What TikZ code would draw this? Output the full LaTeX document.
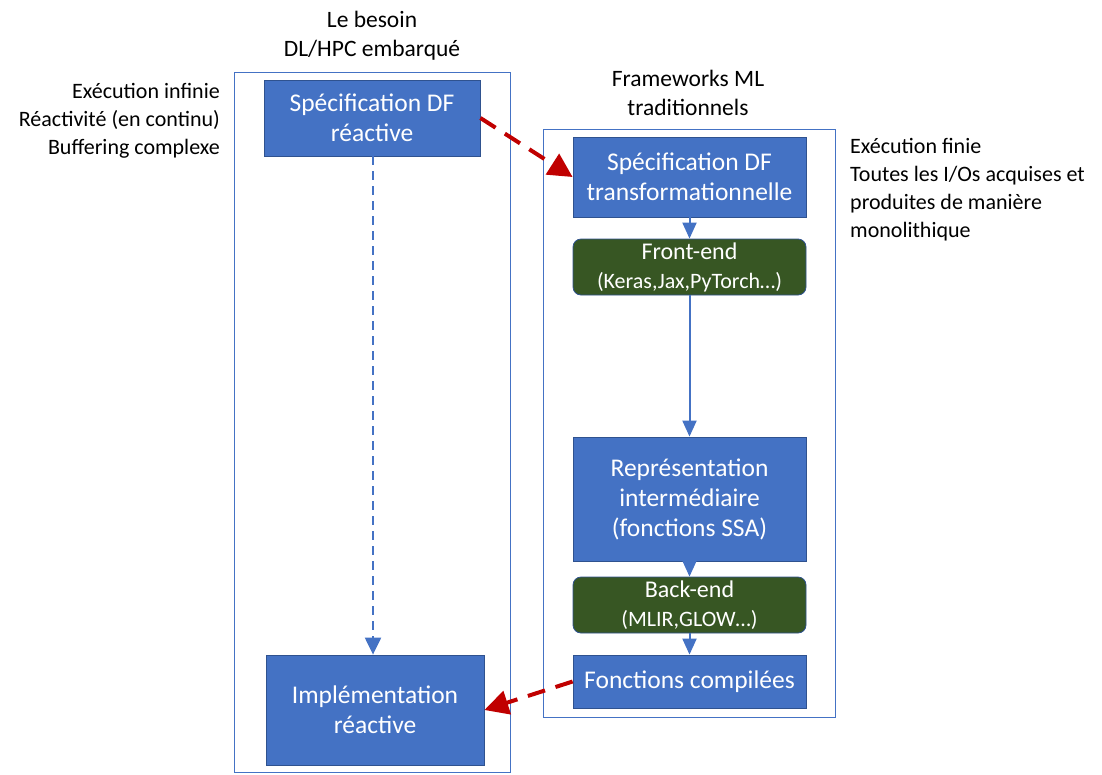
\documentclass[tikz,border=0pt]{standalone}
\usepackage{fontspec}
\setmainfont{Carlito}
\usetikzlibrary{arrows.meta}
\definecolor{bfill}{HTML}{4472C4}
\definecolor{bline}{HTML}{2F528F}
\definecolor{gfill}{HTML}{375623}
\definecolor{rarrow}{HTML}{C00000}
\tikzset{
  bluebox/.style={draw=bline, line width=0.8pt, fill=bfill, text=white, align=center, inner sep=0pt, font=\fontsize{25.5}{30}\selectfont},
  greenbox/.style={draw=bline, line width=0.8pt, fill=gfill, text=white, align=center, rounded corners=8pt, inner sep=0pt, font=\fontsize{24}{29}\selectfont},
  frame/.style={draw=bfill, line width=0.9pt},
  bluearrow/.style={draw=bfill, line width=2pt, -{Triangle[length=16pt,width=14pt]}},
  bluedash/.style={draw=bfill, line width=2.2pt, dash pattern=on 9pt off 6pt, -{Triangle[length=17pt,width=16pt]}},
  redarrow/.style={draw=rarrow, line width=4pt, dash pattern=on 18pt off 11pt, -{Triangle[length=24pt,width=24pt]}},
  lbl/.style={font=\fontsize{22}{28}\selectfont, inner sep=0pt},
  ttl/.style={font=\fontsize{23.5}{29}\selectfont, inner sep=0pt, align=center},
}
\begin{document}
\begin{tikzpicture}[x=1pt,y=-1pt]
\useasboundingbox (0,0) rectangle (1102,774);
% frames
\draw[frame] (234,72) rectangle (510,772);
\draw[frame] (543,129) rectangle (835,717);
% titles
\node[ttl] (t1) at (372,36) {Le besoin\\DL/HPC embarqué};
\node[ttl] (t2) at (688,93) {Frameworks ML\\traditionnels};
% side texts
\node[lbl, align=right, anchor=east] (sl) at (220,121) {Exécution infinie\\Réactivité (en continu)\\Buffering complexe};
\node[lbl, align=left, anchor=north west] (sr2) at (850,138) {Exécution finie\\Toutes les I/Os acquises et\\produites de manière\\monolithique};
% boxes
\node[bluebox, minimum width=216pt, minimum height=76pt] (sr) at (372,118) {Spécification DF\\réactive};
\node[bluebox, minimum width=218pt, minimum height=110pt] (ir) at (375,710) {Implémentation\\réactive};
\node[bluebox, minimum width=233pt, minimum height=80pt] (st) at (689.5,177) {Spécification DF\\transformationnelle};
\node[greenbox, minimum width=233pt, minimum height=56pt] (fe) at (689.5,267) {Front-end\\{\fontsize{22}{29}\selectfont (Keras,Jax,PyTorch…)}};
\node[bluebox, minimum width=233pt, minimum height=124pt] (ri) at (689.5,499) {Représentation\\intermédiaire\\(fonctions SSA)};
\node[greenbox, minimum width=233pt, minimum height=56pt] (be) at (689.5,605) {Back-end\\{\fontsize{22}{29}\selectfont (MLIR,GLOW…)}};
\node[bluebox, minimum width=233pt, minimum height=53pt] (fc) at (689.5,681.5) {Fonctions compilées};
% arrows
\draw[bluedash] (sr.south -| 373,0) -- (ir.north -| 373,0);
\draw[bluearrow] (st) -- (fe);
\draw[bluearrow] (fe) -- (ri);
\draw[bluearrow] (ri) -- (be);
\draw[bluearrow] (be) -- (fc);
\draw[redarrow] (sr.east) -- (st.west);
\draw[redarrow] (fc.west) -- (ir.east);
\end{tikzpicture}
\end{document}
